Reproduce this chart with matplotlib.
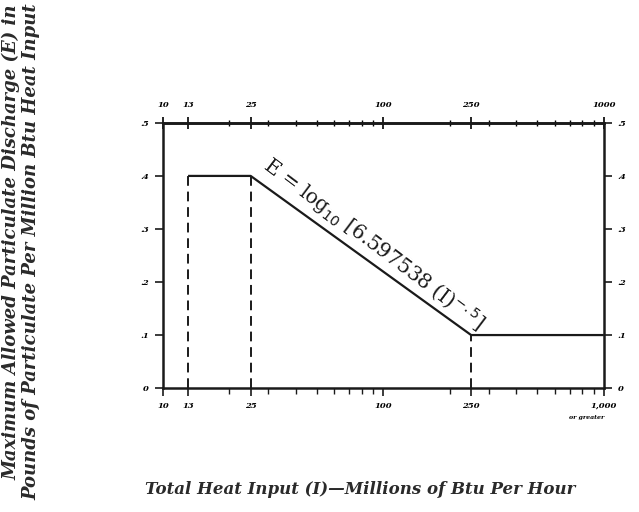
import matplotlib
matplotlib.use("Agg")
import matplotlib.pyplot as plt
from matplotlib.ticker import FixedLocator, NullFormatter

# emission limit curve
heat_input = [13, 25, 250, 1000]
emission = [0.4, 0.4, 0.1, 0.1]

# dashed guide lines (x position, height)
guide_x = [13, 25, 250]
guide_top = [0.4, 0.4, 0.1]

major_x = [10, 13, 25, 100, 250, 1000]
top_labels = ['10', '13', '25', '100', '250', '1000']
bottom_labels = ['10', '13', '25', '100', '250', '1,000']
minor_x = [20, 30, 40, 50, 60, 70, 80, 90, 200, 300, 400, 500, 600, 700, 800, 900]
y_ticks = [0, 0.1, 0.2, 0.3, 0.4, 0.5]
y_labels = ['0', '.1', '.2', '.3', '.4', '.5']

serif = ['DejaVu Serif']
tick_font = dict(family=serif, style='italic', weight='bold', size=6)

fig = plt.figure(figsize=(6.39, 5.12), dpi=100)
fig.set_facecolor('white')
ax = fig.add_axes([0.255, 0.242, 0.69, 0.518])

ax.plot(heat_input, emission, color='#1a1a1a', lw=1.6, solid_capstyle='butt')
for gx, gt in zip(guide_x, guide_top):
    ax.plot([gx, gx], [0, gt], color='#1a1a1a', lw=1.4, ls=(0, (5, 3)))

ax.set_xscale('log')
ax.set_xlim(10, 1000)
ax.set_ylim(0, 0.5)

for s in ax.spines.values():
    s.set_linewidth(1.8)
    s.set_color('#1a1a1a')

ax.xaxis.set_major_locator(FixedLocator(major_x))
ax.xaxis.set_minor_locator(FixedLocator(minor_x))
ax.xaxis.set_minor_formatter(NullFormatter())
ax.set_xticklabels(bottom_labels, **tick_font)
ax.set_yticks(y_ticks)
ax.set_yticklabels(y_labels, **tick_font)

ax.tick_params(axis='both', which='major', direction='out', length=6, width=1.2,
               color='#1a1a1a', pad=4)
ax.tick_params(axis='x', which='minor', direction='out', length=4, width=1.0,
               color='#1a1a1a')
ax.tick_params(axis='y', right=True, labelright=True)

top = ax.secondary_xaxis('top')
top.set_xscale('log')
top.xaxis.set_major_locator(FixedLocator(major_x))
top.xaxis.set_minor_locator(FixedLocator(minor_x))
top.xaxis.set_minor_formatter(NullFormatter())
top.set_xticklabels(top_labels, **tick_font)
top.tick_params(which='major', direction='inout', length=8, width=1.2, pad=6)
top.tick_params(which='minor', direction='inout', length=5, width=1.0)
top.spines['top'].set_linewidth(1.8)

ax.text(1000, -0.05, 'or greater', ha='right', va='top', fontsize=4.5,
        family=serif, style='italic', weight='bold')

ax.text(90, 0.272, r'E = log$_{10}$ [6.597538 (I)$^{-.5}$]', rotation=-37,
        ha='center', va='center', fontsize=14.5, family=serif,
        rotation_mode='anchor', color='#1a1a1a')

fig.text(11 / 639, 1 - 4 / 512, 'Maximum Allowed Particulate Discharge (E) in',
         rotation=90, ha='center', va='top', fontsize=13, family=serif,
         style='italic', weight='bold', color='#2a2a2a')
fig.text(31 / 639, 1 - 3 / 512, 'Pounds of Particulate Per Million Btu Heat Input',
         rotation=90, ha='center', va='top', fontsize=13, family=serif,
         style='italic', weight='bold', color='#2a2a2a')

fig.text(360 / 639, 1 - 490 / 512, 'Total Heat Input (I)\u2014Millions of Btu Per Hour',
         ha='center', va='center', fontsize=12, family=serif, style='italic',
         weight='bold', color='#2a2a2a')

fig.savefig('out.png', dpi=100)
